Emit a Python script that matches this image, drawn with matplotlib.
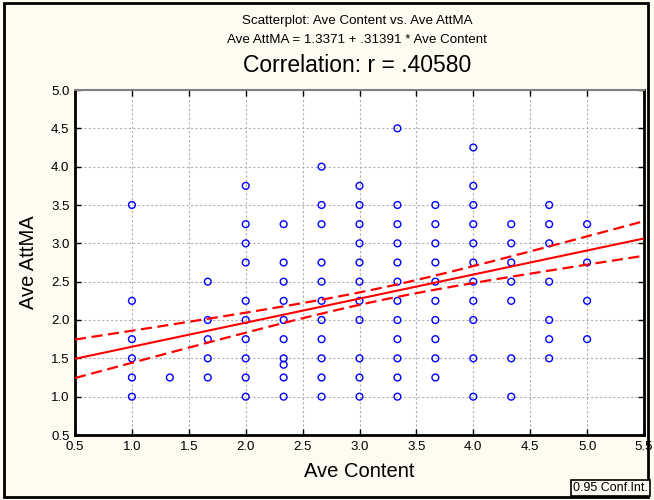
import matplotlib.pyplot as plt
import numpy as np
from matplotlib.patches import Rectangle

plt.rcParams['font.family'] = ['Liberation Sans', 'DejaVu Sans']

# Ave Content levels (columns in the scatter) and the Ave AttMA values seen at each
content_levels = [1.0, 4/3, 5/3, 2.0, 7/3, 8/3, 3.0, 10/3, 11/3, 4.0, 13/3, 14/3, 5.0]
attma_100 = [1.0, 1.25, 1.5, 1.75, 2.25, 3.5]
attma_133 = [1.25]
attma_167 = [1.25, 1.5, 1.75, 2.0, 2.5]
attma_200 = [1.0, 1.25, 1.5, 1.75, 2.0, 2.25, 2.75, 3.0, 3.25, 3.75]
attma_233 = [1.0, 1.25, 1.4167, 1.5, 1.75, 2.0, 2.25, 2.5, 2.75, 3.25]
attma_267 = [1.0, 1.25, 1.5, 1.75, 2.0, 2.25, 2.5, 2.75, 3.25, 3.5, 4.0]
attma_300 = [1.0, 1.25, 1.5, 2.0, 2.25, 2.5, 2.75, 3.0, 3.25, 3.5, 3.75]
attma_333 = [1.0, 1.25, 1.5, 1.75, 2.0, 2.25, 2.5, 2.75, 3.0, 3.25, 3.5, 4.5]
attma_367 = [1.25, 1.5, 1.75, 2.0, 2.25, 2.5, 2.75, 3.0, 3.25, 3.5]
attma_400 = [1.0, 1.5, 2.0, 2.25, 2.5, 2.75, 3.0, 3.25, 3.5, 3.75, 4.25]
attma_433 = [1.0, 1.5, 2.25, 2.5, 2.75, 3.0, 3.25]
attma_467 = [1.5, 1.75, 2.0, 2.5, 3.0, 3.25, 3.5]
attma_500 = [1.75, 2.25, 2.75, 3.25]
attma_cols = [attma_100, attma_133, attma_167, attma_200, attma_233, attma_267,
              attma_300, attma_333, attma_367, attma_400, attma_433, attma_467, attma_500]

# regression (from the chart subtitle) and estimated stats for the 0.95 band
intercept = 1.3371
slope = 0.31391
n_obs = 220
resid_sd = 0.60
x_mean = 3.15
x_sd = 0.89
t_crit = 1.97

xs = []
ys = []
for lvl, col in zip(content_levels, attma_cols):
    xs += [lvl] * len(col)
    ys += col

fig = plt.figure(figsize=(6.54, 5.0), dpi=100, facecolor='#fffbf0')
ax = fig.add_axes([75/654, 65/500, 569/654, 345/500])
ax.set_facecolor('white')

ax.scatter(xs, ys, s=24, facecolors='none', edgecolors='#0000ff', linewidths=1.0, zorder=3)

xx = np.linspace(0.5, 5.5, 200)
yy = intercept + slope * xx
half = t_crit * resid_sd * np.sqrt(1/n_obs + (xx - x_mean)**2 / ((n_obs - 1) * x_sd**2))
ax.plot(xx, yy, color='#ff0000', lw=1.5, zorder=4)
ax.plot(xx, yy + half, color='#ff0000', lw=1.6, dashes=(5, 2.5), zorder=4)
ax.plot(xx, yy - half, color='#ff0000', lw=1.6, dashes=(5, 2.5), zorder=4)

ax.set_xlim(0.5, 5.5)
ax.set_ylim(0.5, 5.0)
ax.set_xticks(np.arange(0.5, 5.51, 0.5))
ax.set_yticks(np.arange(0.5, 5.01, 0.5))
ax.set_xticklabels(['%.1f' % v for v in np.arange(0.5, 5.51, 0.5)])
ax.set_yticklabels(['%.1f' % v for v in np.arange(0.5, 5.01, 0.5)])
ax.tick_params(direction='in', length=4, width=1, labelsize=9.5, top=True, right=True, pad=4)
ax.grid(True, color='#b0b0b0', linestyle=(0, (2, 2)), linewidth=0.8)
ax.set_axisbelow(True)
for side in ['left', 'bottom', 'right']:
    ax.spines[side].set_linewidth(2)
    ax.spines[side].set_color('black')
ax.spines['top'].set_linewidth(1.5)
ax.spines['top'].set_color('#808080')

ax.set_xlabel('Ave Content', fontsize=14.5, labelpad=7)
ax.set_ylabel('Ave AttMA', fontsize=14.5, labelpad=9)

fig.text(0.546, 1 - 21/500, 'Scatterplot: Ave Content vs. Ave AttMA', ha='center', va='center', fontsize=9.6)
fig.text(0.546, 1 - 40/500, 'Ave AttMA = 1.3371 + .31391 * Ave Content', ha='center', va='center', fontsize=9.6)
fig.text(0.546, 1 - 65/500, 'Correlation: r = .40580', ha='center', va='center', fontsize=16.5)

fig.patches.append(Rectangle((4/654, 3/500), 644/654, 494/500, transform=fig.transFigure,
                             fill=False, edgecolor='black', lw=2))
fig.text(573/654, 1 - 488/500, '0.95 Conf.Int.', ha='left', va='center', fontsize=9,
         bbox=dict(boxstyle='square,pad=0.15', facecolor='#fffbf0', edgecolor='black', lw=1.2))

fig.savefig('out.png', dpi=100, facecolor=fig.get_facecolor())
